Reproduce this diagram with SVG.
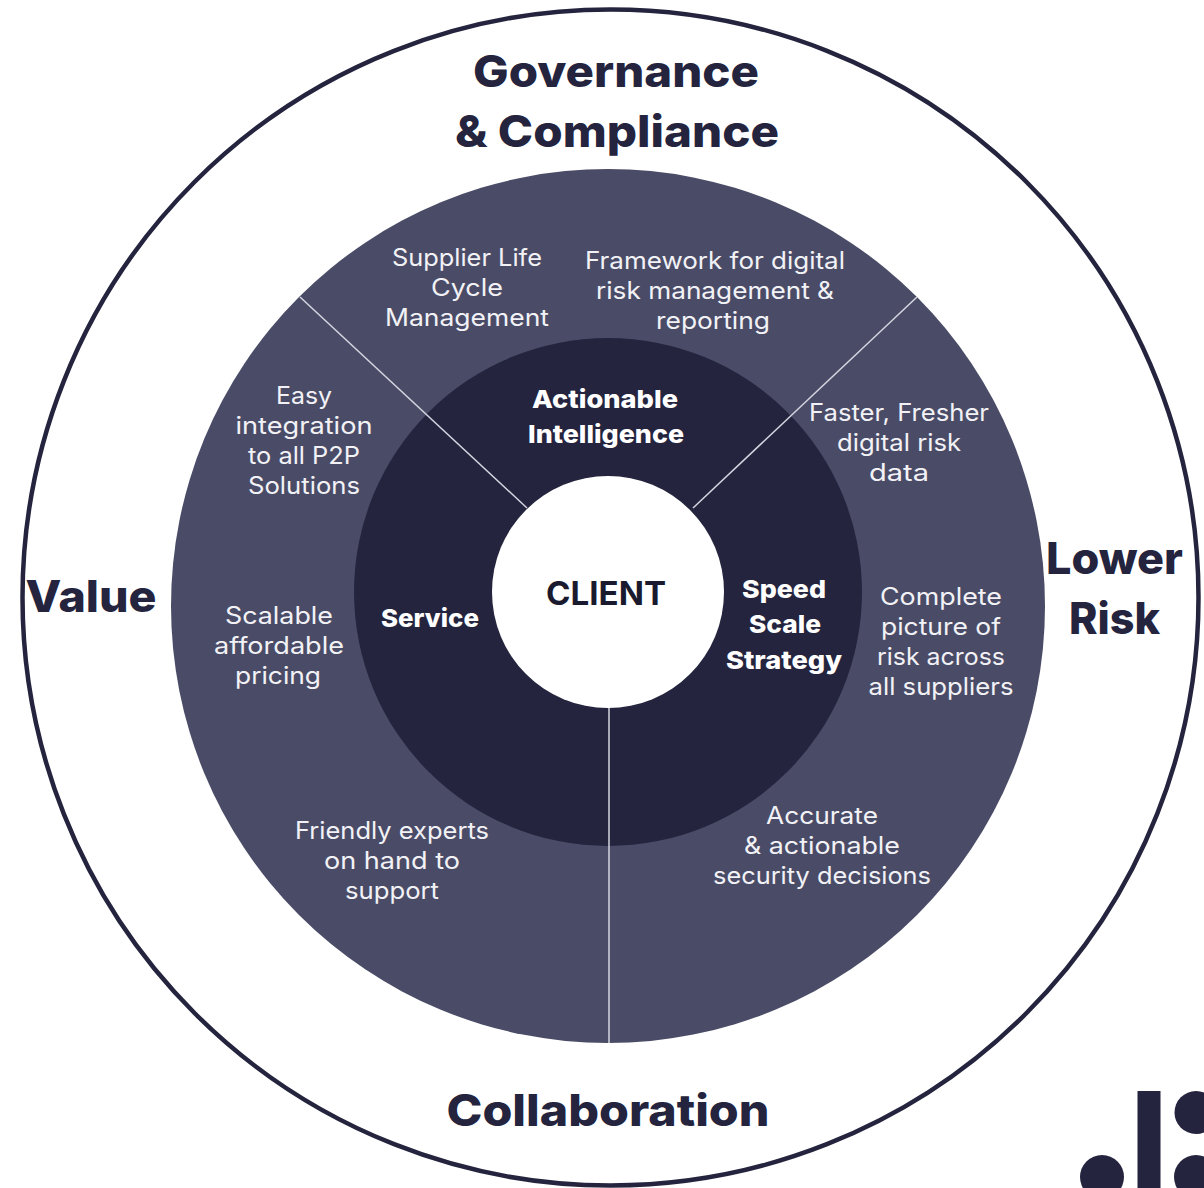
<svg xmlns="http://www.w3.org/2000/svg" width="1204" height="1188" viewBox="0 0 1204 1188">
<style>
text{font-family:"Inter","Liberation Sans",sans-serif;text-anchor:middle}
.h{font-size:44px;font-weight:800;fill:#24243e}
.b{font-size:25px;font-weight:800;fill:#fff}
.t{font-size:24px;font-weight:400;fill:#f2f2f6}
.c{font-size:33px;font-weight:700;fill:#1a1a2e}
.l{stroke:#d5d6e0;stroke-width:1.5;fill:none}
</style>
<rect width="1204" height="1188" fill="#fff"/>
<g id="outer"><circle cx="610.5" cy="597.5" r="588" fill="#fff" stroke="#24243e" stroke-width="4.5"/></g>
<g id="middle"><circle cx="608" cy="606" r="437" fill="#4a4c67"/></g>
<g id="inner"><circle cx="608" cy="592" r="254" fill="#24243e"/></g>
<g id="connectors">
<line class="l" x1="300" y1="297" x2="527" y2="508"/>
<line class="l" x1="917" y1="297" x2="693" y2="508"/>
<line class="l" x1="609" y1="705" x2="609" y2="1043"/>
</g>
<g id="client"><circle cx="608" cy="592" r="116" fill="#fff"/><text class="c" x="606" y="605" textLength="120" lengthAdjust="spacingAndGlyphs">CLIENT</text></g>
<g id="governance"><text class="h" x="616" y="87" textLength="286" lengthAdjust="spacingAndGlyphs">Governance</text><text class="h" x="617" y="147" textLength="324" lengthAdjust="spacingAndGlyphs">&amp; Compliance</text></g>
<g id="value"><text class="h" x="91" y="612" textLength="131" lengthAdjust="spacingAndGlyphs">Value</text></g>
<g id="lower-risk"><text class="h" x="1114.5" y="574" textLength="137" lengthAdjust="spacingAndGlyphs">Lower</text><text class="h" x="1114.5" y="634" textLength="91" lengthAdjust="spacingAndGlyphs">Risk</text></g>
<g id="collaboration"><text class="h" x="608" y="1126" textLength="323" lengthAdjust="spacingAndGlyphs">Collaboration</text></g>
<g id="actionable"><text class="b" x="605" y="408" textLength="146" lengthAdjust="spacingAndGlyphs">Actionable</text><text class="b" x="606" y="443" textLength="156" lengthAdjust="spacingAndGlyphs">Intelligence</text></g>
<g id="service"><text class="b" x="430" y="627" textLength="98" lengthAdjust="spacingAndGlyphs">Service</text></g>
<g id="speed"><text class="b" x="784" y="598" textLength="84" lengthAdjust="spacingAndGlyphs">Speed</text><text class="b" x="785" y="633" textLength="72" lengthAdjust="spacingAndGlyphs">Scale</text><text class="b" x="784" y="669" textLength="116" lengthAdjust="spacingAndGlyphs">Strategy</text></g>
<g id="supplier"><text class="t" x="467" y="266" textLength="150" lengthAdjust="spacingAndGlyphs">Supplier Life</text><text class="t" x="467" y="296" textLength="72" lengthAdjust="spacingAndGlyphs">Cycle</text><text class="t" x="467" y="326" textLength="164" lengthAdjust="spacingAndGlyphs">Management</text></g>
<g id="framework"><text class="t" x="715" y="269" textLength="260" lengthAdjust="spacingAndGlyphs">Framework for digital</text><text class="t" x="715" y="299" textLength="238" lengthAdjust="spacingAndGlyphs">risk management &amp;</text><text class="t" x="713" y="329" textLength="114" lengthAdjust="spacingAndGlyphs">reporting</text></g>
<g id="easy"><text class="t" x="304" y="404" textLength="56" lengthAdjust="spacingAndGlyphs">Easy</text><text class="t" x="304" y="434" textLength="137" lengthAdjust="spacingAndGlyphs">integration</text><text class="t" x="304" y="464" textLength="112" lengthAdjust="spacingAndGlyphs">to all P2P</text><text class="t" x="304" y="494" textLength="112" lengthAdjust="spacingAndGlyphs">Solutions</text></g>
<g id="scalable"><text class="t" x="279" y="624" textLength="108" lengthAdjust="spacingAndGlyphs">Scalable</text><text class="t" x="279" y="654" textLength="130" lengthAdjust="spacingAndGlyphs">affordable</text><text class="t" x="278" y="684" textLength="86" lengthAdjust="spacingAndGlyphs">pricing</text></g>
<g id="friendly"><text class="t" x="392" y="839" textLength="194" lengthAdjust="spacingAndGlyphs">Friendly experts</text><text class="t" x="392" y="869" textLength="136" lengthAdjust="spacingAndGlyphs">on hand to</text><text class="t" x="392" y="899" textLength="94" lengthAdjust="spacingAndGlyphs">support</text></g>
<g id="accurate"><text class="t" x="822" y="824" textLength="112" lengthAdjust="spacingAndGlyphs">Accurate</text><text class="t" x="822" y="854" textLength="156" lengthAdjust="spacingAndGlyphs">&amp; actionable</text><text class="t" x="822" y="884" textLength="218" lengthAdjust="spacingAndGlyphs">security decisions</text></g>
<g id="complete"><text class="t" x="941" y="605" textLength="122" lengthAdjust="spacingAndGlyphs">Complete</text><text class="t" x="941" y="635" textLength="120" lengthAdjust="spacingAndGlyphs">picture of</text><text class="t" x="941" y="665" textLength="128" lengthAdjust="spacingAndGlyphs">risk across</text><text class="t" x="941" y="695" textLength="145" lengthAdjust="spacingAndGlyphs">all suppliers</text></g>
<g id="faster"><text class="t" x="899" y="421" textLength="180" lengthAdjust="spacingAndGlyphs">Faster, Fresher</text><text class="t" x="899" y="451" textLength="124" lengthAdjust="spacingAndGlyphs">digital risk</text><text class="t" x="899" y="481" textLength="60" lengthAdjust="spacingAndGlyphs">data</text></g>
<g id="logo" fill="#24243e"><circle cx="1102" cy="1177" r="22"/><rect x="1137.5" y="1091" width="23" height="97"/><circle cx="1196" cy="1112.5" r="21.5"/><circle cx="1196" cy="1177" r="22"/></g>
</svg>
